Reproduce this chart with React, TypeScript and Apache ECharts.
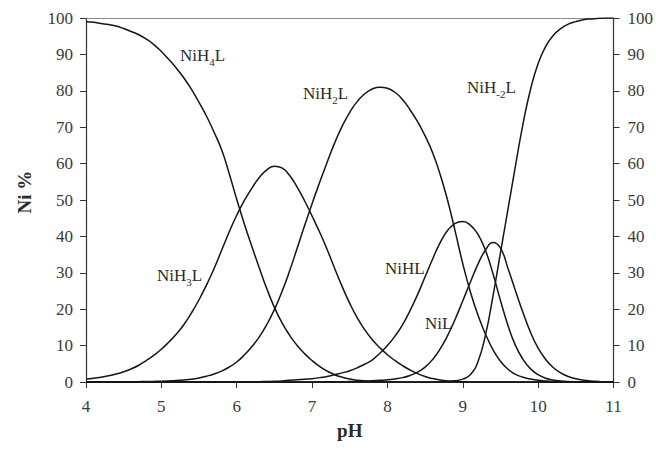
import React, { useEffect, useRef } from "react";
import * as echarts from "echarts";

// ---- axis ticks ----
const xTicksMin = 4;
const xTicksMax = 11;
const yTicksMin = 0;
const yTicksMax = 100;

// ---- common pH grid ----
const pH = [
  4.0, 4.1, 4.2, 4.3, 4.4, 4.5, 4.6, 4.7, 4.8, 4.9,
  5.0, 5.1, 5.2, 5.3, 5.4, 5.5, 5.6, 5.7, 5.8, 5.9,
  6.0, 6.1, 6.2, 6.3, 6.4, 6.5, 6.6, 6.7, 6.8, 6.9,
  7.0, 7.1, 7.2, 7.3, 7.4, 7.5, 7.6, 7.7, 7.8, 7.9,
  8.0, 8.1, 8.2, 8.3, 8.4, 8.5, 8.6, 8.7, 8.8, 8.9,
  9.0, 9.1, 9.2, 9.3, 9.4, 9.5, 9.6, 9.7, 9.8, 9.9,
  10.0, 10.1, 10.2, 10.3, 10.4, 10.5, 10.6, 10.7, 10.8, 10.9,
  11.0,
];

// ---- species distribution, % Ni ----
const NiH4L = [
  99.0, 98.8, 98.5, 98.2, 97.8, 97.1, 96.3, 95.4, 94.2, 92.7,
  90.8, 88.6, 86.2, 83.5, 80.4, 76.8, 73.0, 68.6, 63.8, 57.3,
  50.2, 43.5, 37.3, 31.3, 25.6, 20.5, 16.3, 12.9, 10.1, 7.8,
  5.9, 4.3, 3.0, 2.0, 1.3, 0.8, 0.5, 0.3, 0.18, 0.1,
  0.06, 0.03, 0.01, 0, 0, 0, 0, 0, 0, 0,
  0, 0, 0, 0, 0, 0, 0, 0, 0, 0,
  0, 0, 0, 0, 0, 0, 0, 0, 0, 0,
  0,
];
const NiH3L = [
  0.8, 1.0, 1.3, 1.7, 2.2, 2.8, 3.6, 4.6, 5.9, 7.3,
  9.0, 11.0, 13.2, 15.8, 19.0, 22.6, 26.7, 31.2, 36.2, 41.2,
  45.8, 49.8, 53.2, 56.2, 58.3, 59.3, 58.8, 56.8, 53.6, 49.8,
  45.6, 41.2, 36.4, 31.2, 26.2, 21.6, 17.6, 14.3, 11.6, 9.4,
  7.5, 5.9, 4.5, 3.3, 2.3, 1.5, 0.95, 0.55, 0.3, 0.15,
  0.07, 0.03, 0, 0, 0, 0, 0, 0, 0, 0,
  0, 0, 0, 0, 0, 0, 0, 0, 0, 0,
  0,
];
const NiH2L = [
  0, 0.01, 0.02, 0.03, 0.04, 0.06, 0.08, 0.1, 0.13, 0.17,
  0.22, 0.3, 0.4, 0.55, 0.75, 1.1, 1.6, 2.2, 3.0, 4.1,
  5.5, 7.4, 9.7, 12.4, 15.8, 19.9, 24.8, 30.4, 36.6, 42.9,
  49.0, 54.8, 60.4, 65.7, 70.3, 74.1, 77.1, 79.2, 80.5, 81.0,
  80.7, 79.6, 77.6, 74.8, 71.5, 67.6, 63.0, 57.0, 49.8, 41.3,
  32.5, 24.8, 18.5, 13.2, 8.9, 5.7, 3.5, 2.1, 1.3, 0.8,
  0.45, 0.25, 0.13, 0.06, 0.03, 0, 0, 0, 0, 0,
  0,
];
const NiHL = [
  0, 0, 0, 0, 0, 0, 0, 0, 0, 0,
  0, 0, 0, 0, 0, 0, 0, 0, 0, 0,
  0.02, 0.04, 0.07, 0.1, 0.15, 0.2, 0.3, 0.45, 0.6, 0.75,
  0.9, 1.2, 1.5, 2.0, 2.5, 3.1, 3.9, 4.9, 6.1, 7.9,
  10.0, 12.6, 15.7, 19.6, 24.0, 28.9, 33.8, 38.3, 41.7, 43.6,
  44.1, 43.1, 40.6, 36.2, 29.8, 22.4, 15.5, 10.0, 6.2, 3.6,
  2.0, 1.05, 0.55, 0.28, 0.13, 0.06, 0.02, 0, 0, 0,
  0,
];
const NiL = [
  0, 0, 0, 0, 0, 0, 0, 0, 0, 0,
  0, 0, 0, 0, 0, 0, 0, 0, 0, 0,
  0, 0, 0, 0, 0, 0, 0, 0, 0, 0,
  0.02, 0.03, 0.05, 0.07, 0.09, 0.12, 0.17, 0.24, 0.33, 0.45,
  0.6, 0.85, 1.2, 1.8, 2.7, 4.1, 6.2, 9.1, 12.8, 17.3,
  22.3, 27.4, 32.3, 36.2, 38.3, 36.8, 31.2, 25.0, 19.0, 13.6,
  9.3, 6.2, 4.0, 2.5, 1.5, 0.9, 0.5, 0.28, 0.15, 0.07,
  0.03,
];
const NiHm2L = [
  0, 0, 0, 0, 0, 0, 0, 0, 0, 0,
  0, 0, 0, 0, 0, 0, 0, 0, 0, 0,
  0, 0, 0, 0, 0, 0, 0, 0, 0, 0,
  0, 0, 0, 0, 0, 0, 0, 0, 0, 0,
  0, 0, 0, 0, 0, 0, 0, 0.05, 0.15, 0.35,
  0.8, 2.0, 5.5, 12.8, 23.5, 35.5, 47.5, 59.5, 71.0, 80.5,
  87.5, 92.2, 95.2, 97.1, 98.3, 99.0, 99.5, 99.75, 99.9, 99.97,
  100,
];

const speciesNames = ["NiH4L", "NiH3L", "NiH2L", "NiHL", "NiL", "NiH-2L"];

const FONT = "Liberation Serif";

function zip(xs: number[], ys: number[]) {
  return xs.map((x, i) => [x, ys[i]]);
}

function labelRich(main: string, sub: string) {
  return sub ? `{n|${main}}{s|${sub}}{n|L}` : `{n|${main}}`;
}

const rich = {
  n: { fontFamily: FONT, fontSize: 17, lineHeight: 17, verticalAlign: "top", fill: "#2a2a2a", color: "#2a2a2a" },
  s: { fontFamily: FONT, fontSize: 11, lineHeight: 11, verticalAlign: "top", padding: [9, 0, 0, 0], fill: "#2a2a2a", color: "#2a2a2a" },
};

export default function App() {
  const ref = useRef<HTMLDivElement>(null);
  useEffect(() => {
    if (!ref.current) return;
    const chart = echarts.init(ref.current, undefined, { renderer: "svg" });
    const lineColor = "#151515";
    const mkSeries = (name: string, ys: number[]) => ({
      name,
      type: "line",
      data: zip(pH, ys),
      smooth: 0.5,
      showSymbol: false,
      symbol: "none",
      lineStyle: { color: lineColor, width: 1.5 },
      xAxisIndex: 0,
      yAxisIndex: 0,
      z: 3,
    });
    const axisLabelStyle = { fontFamily: FONT, fontSize: 17, color: "#3a3a3a" };
    const labels = [
      { x: 180, y: 47, text: labelRich("NiH", "4") },
      { x: 157, y: 267, text: labelRich("NiH", "3") },
      { x: 303, y: 85, text: labelRich("NiH", "2") },
      { x: 385, y: 260, text: "{n|NiHL}" },
      { x: 425, y: 315, text: "{n|NiL}" },
      { x: 467, y: 79, text: labelRich("NiH", "-2") },
    ];
    chart.setOption({
      animation: false,
      grid: { left: 86, right: 42, top: 18, bottom: 67, containLabel: false },
      xAxis: [
        {
          type: "value",
          min: xTicksMin,
          max: xTicksMax,
          interval: 1,
          position: "bottom",
          name: "pH",
          nameLocation: "middle",
          nameGap: 39,
          nameTextStyle: { fontFamily: FONT, fontSize: 19, fontWeight: "bold", color: "#2a2a2a" },
          axisLine: { show: true, onZero: false, lineStyle: { color: "#333", width: 1.2 } },
          axisTick: { show: true, inside: false, length: 6, lineStyle: { color: "#333" } },
          axisLabel: { ...axisLabelStyle, margin: 16 },
          splitLine: { show: false },
        },
        {
          type: "value",
          min: xTicksMin,
          max: xTicksMax,
          interval: 1,
          position: "top",
          axisLine: { show: true, onZero: false, lineStyle: { color: "#8a8a8a", width: 1.2 } },
          axisTick: { show: false },
          axisLabel: { show: false },
          splitLine: { show: false },
        },
      ],
      yAxis: [
        {
          type: "value",
          min: yTicksMin,
          max: yTicksMax,
          interval: 10,
          position: "left",
          axisLine: { show: true, onZero: false, lineStyle: { color: "#333", width: 1.2 } },
          axisTick: { show: true, inside: false, length: 6, lineStyle: { color: "#333" } },
          axisLabel: { ...axisLabelStyle, margin: 13 },
          splitLine: { show: false },
        },
        {
          type: "value",
          min: yTicksMin,
          max: yTicksMax,
          interval: 10,
          position: "right",
          axisLine: { show: true, onZero: false, lineStyle: { color: "#333", width: 1.2 } },
          axisTick: { show: true, inside: false, length: 6, lineStyle: { color: "#333" } },
          axisLabel: { ...axisLabelStyle, margin: 14 },
          splitLine: { show: false },
        },
      ],
      series: [
        mkSeries(speciesNames[0], NiH4L),
        mkSeries(speciesNames[1], NiH3L),
        mkSeries(speciesNames[2], NiH2L),
        mkSeries(speciesNames[3], NiHL),
        mkSeries(speciesNames[4], NiL),
        mkSeries(speciesNames[5], NiHm2L),
      ],
      graphic: [
        ...labels.map((l) => ({
          type: "text",
          x: l.x,
          y: l.y,
          z: 10,
          style: { text: l.text, rich, fill: "#2a2a2a" },
        })),
        {
          type: "text",
          x: 24,
          y: 192,
          rotation: Math.PI / 2,
          style: {
            text: "Ni %",
            fontFamily: FONT,
            fontSize: 19,
            fontWeight: "bold",
            fill: "#2a2a2a",
            align: "center",
            verticalAlign: "middle",
          },
        },
      ],
    });
    return () => chart.dispose();
  }, []);
  return (
    <div
      ref={ref}
      style={{ position: "absolute", left: 0, top: 0, width: 656, height: 449, background: "#fff" }}
    />
  );
}
